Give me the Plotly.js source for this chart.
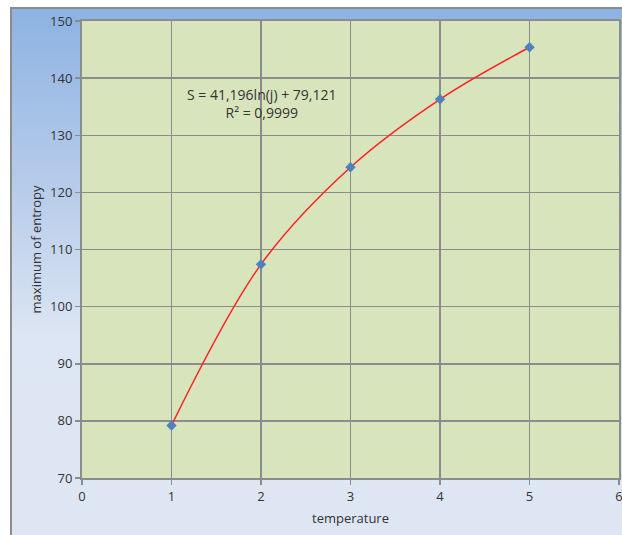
<!DOCTYPE html>
<html><head><meta charset="utf-8">
<script src="https://cdn.plot.ly/plotly-3.0.1.min.js"></script>
<style>
html,body{margin:0;padding:0;width:622px;height:535px;overflow:hidden;background:#fff;}
#bg{position:absolute;left:10px;top:7px;width:620px;height:535px;border-left:2px solid #8c8c8c;border-top:2px solid #8c8c8c;
background:linear-gradient(to bottom,#8db3e2 0%,#b9cdea 35%,#dde6f4 62%,#dfe6f3 100%);}
#chart{position:absolute;left:0;top:0;width:622px;height:535px;}
</style></head>
<body><div id="bg"></div><div id="chart"></div>
<script>
const temperature = [1, 2, 3, 4, 5];
const entropyMax = [79.2, 107.4, 124.4, 136.3, 145.4];
const equationText = "S = 41,196ln(j) + 79,121";
const r2Text = "R² = 0,9999";
const xTicks = [0, 1, 2, 3, 4, 5, 6];
const yTicks = [70, 80, 90, 100, 110, 120, 130, 140, 150];

const font = {family: "Open Sans, Liberation Sans, sans-serif", size: 13, color: "#333"};
const traces = [
  {x: temperature, y: entropyMax, mode: "lines", line: {color: "#ff2020", width: 1.5, shape: "spline", smoothing: 1.0}, hoverinfo: "skip"},
  {x: temperature, y: entropyMax, mode: "markers", marker: {symbol: "diamond", size: 8, color: "#4f81bd"}}
];
const axisCommon = {showline: true, linecolor: "#8c8c8c", linewidth: 2, mirror: true, showgrid: true,
  gridcolor: "#8c8c8c", gridwidth: 1.5, ticks: "outside", ticklen: 5, tickwidth: 1.5, tickcolor: "#8c8c8c",
  zeroline: false, tickfont: font, fixedrange: true, ticklabeloverflow: "allow"};
const layout = {
  width: 622, height: 535, showlegend: false,
  paper_bgcolor: "rgba(0,0,0,0)", plot_bgcolor: "#d8e4bc",
  margin: {l: 82, r: 3, t: 21, b: 57},
  font: font,
  xaxis: Object.assign({}, axisCommon, {range: [0, 6], tickvals: xTicks, ticktext: xTicks.map(String),
    title: {text: "temperature", font: font, standoff: 10}}),
  yaxis: Object.assign({}, axisCommon, {range: [70, 150], tickvals: yTicks, ticktext: yTicks.map(String),
    title: {text: "maximum of entropy", font: font, standoff: 6}}),
  annotations: [
    {x: 2.0, y: 135.5, xref: "x", yref: "y", text: equationText + "<br>" + r2Text, align: "center",
     showarrow: false, font: {family: font.family, size: 14, color: "#333"}}
  ]
};
Plotly.newPlot("chart", traces, layout, {staticPlot: true});
</script></body></html>
